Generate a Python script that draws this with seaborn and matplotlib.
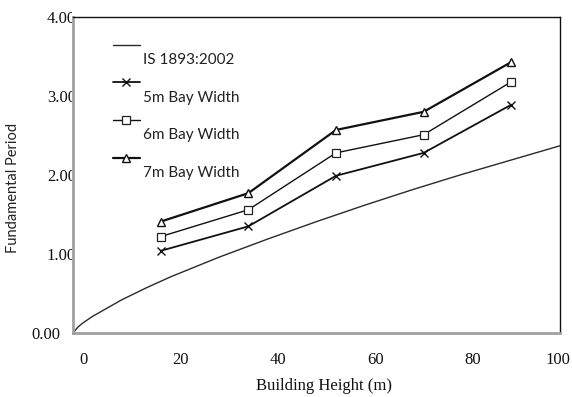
import numpy as np
import pandas as pd
import matplotlib
matplotlib.use("Agg")
import matplotlib.pyplot as plt
import matplotlib.transforms as mtransforms
from matplotlib.legend_handler import HandlerLine2D
import seaborn as sns

# ---- data ----
is_height = [0, 1, 2, 4, 6, 8, 10, 15, 20, 30, 40, 50, 60, 70, 80, 90, 100]
is_period = [0.0, 0.075, 0.126, 0.21, 0.28, 0.35, 0.42, 0.57, 0.71, 0.96,
             1.19, 1.41, 1.62, 1.82, 2.01, 2.19, 2.37]
heights = [18, 36, 54, 72, 90]
bay5 = [1.04, 1.35, 1.99, 2.28, 2.89]
bay6 = [1.22, 1.56, 2.28, 2.51, 3.18]
bay7 = [1.41, 1.77, 2.57, 2.80, 3.43]
labels = ["IS 1893:2002", "5m Bay Width", "6m Bay Width", "7m Bay Width"]
xticks = [0, 20, 40, 60, 80, 100]
yticks = [0, 1, 2, 3, 4]
ytick_labels = ["0.00", "1.00", "2.00", "3.00", "4.00"]

sns.set_style("white")

fig = plt.figure(figsize=(5.72, 3.97), dpi=100)
L, R, B, T = 73 / 572, 560 / 572, (397 - 333) / 397, (397 - 17) / 397
ax = fig.add_axes([L, B, R - L, T - B])

sns.lineplot(x=is_height, y=is_period, ax=ax, color="#2a2a2a", lw=1.0,
             label=labels[0], estimator=None, sort=False)
sns.lineplot(x=heights, y=bay5, ax=ax, color="#111111", lw=1.3, marker="x",
             markersize=6, mec="#111111", mew=1.0, label=labels[1],
             estimator=None)
sns.lineplot(x=heights, y=bay6, ax=ax, color="#111111", lw=1.0, marker="s",
             markersize=5.5, mfc="white", mec="#222222", mew=0.9,
             label=labels[2], estimator=None)
sns.lineplot(x=heights, y=bay7, ax=ax, color="#111111", lw=1.6, marker="^",
             markersize=6, mfc="white", mec="#111111", mew=1.0,
             label=labels[3], estimator=None)

ax.set_xlim(0, 100)
ax.set_ylim(0, 4)
ax.set_xticks(xticks)
ax.set_yticks(yticks)
ax.set_yticklabels(ytick_labels)
ax.tick_params(axis="both", length=0)
ax.tick_params(axis="y", pad=9.4)
ax.tick_params(axis="x", pad=14)

serif = ["Liberation Serif", "DejaVu Serif"]
for lab in ax.get_xticklabels() + ax.get_yticklabels():
    lab.set_fontfamily(serif)
    lab.set_fontsize(12)
    lab.set_color("#111111")

# spines
for s in ["left", "bottom"]:
    ax.spines[s].set_color("#a0a0a0")
    ax.spines[s].set_linewidth(2.0)
for s in ["top", "right"]:
    ax.spines[s].set_color("#111111")
    ax.spines[s].set_linewidth(1.0)

ax.set_xlabel("Building Height (m)", fontfamily=serif, fontsize=12, color="#111111")
ax.xaxis.set_label_coords((324 - 73) / 487, (333 - 378) / 316)
ax.set_ylabel("Fundamental Period", fontfamily=["Lato", "DejaVu Sans"],
              fontsize=10.5, color="#222222")
ax.yaxis.set_label_coords((20 - 73) / 487, (333 - 188) / 316)


class UpHandler(HandlerLine2D):
    def create_artists(self, legend, orig_handle, xdescent, ydescent,
                       width, height, fontsize, trans):
        arts = super().create_artists(legend, orig_handle, xdescent, ydescent,
                                      width, height, fontsize, trans)
        for a in arts:
            a.set_ydata(np.asarray(a.get_ydata(), dtype=float) + 10)
        return arts


handles, labs = ax.get_legend_handles_labels()
hm = {h: UpHandler() for h in handles}
leg = ax.legend(handles, labs, handler_map=hm, loc="upper left",
                bbox_to_anchor=((113 - 73) / 487, (333 - 53) / 316),
                frameon=False, borderaxespad=0, borderpad=0,
                handlelength=1.75, handletextpad=0.2, labelspacing=1.55,
                prop={"family": ["Lato", "DejaVu Sans"], "size": 11})
for t in leg.get_texts():
    t.set_color("#222222")

# x tick labels shifted right, as in the reference
xoff = mtransforms.ScaledTranslation(0.10, 0, fig.dpi_scale_trans)
xoff_last = mtransforms.ScaledTranslation(-0.02, 0, fig.dpi_scale_trans)
xls = ax.get_xticklabels()
for i, lab in enumerate(xls):
    lab.set_transform(lab.get_transform() + (xoff_last if i == len(xls) - 1 else xoff))

# y tick labels (except 0.00) shifted right and clipped by the axes frame
yoff = mtransforms.ScaledTranslation(0.16, 0, fig.dpi_scale_trans)
clip = mtransforms.TransformedBbox(mtransforms.Bbox([[0, 0], [L - 0.001, 1]]),
                                   fig.transFigure)
for i, lab in enumerate(ax.get_yticklabels()):
    if i > 0:
        lab.set_transform(lab.get_transform() + yoff)
        lab.set_clip_box(clip)
        lab.set_clip_on(True)

fig.savefig("out.png", dpi=100)
